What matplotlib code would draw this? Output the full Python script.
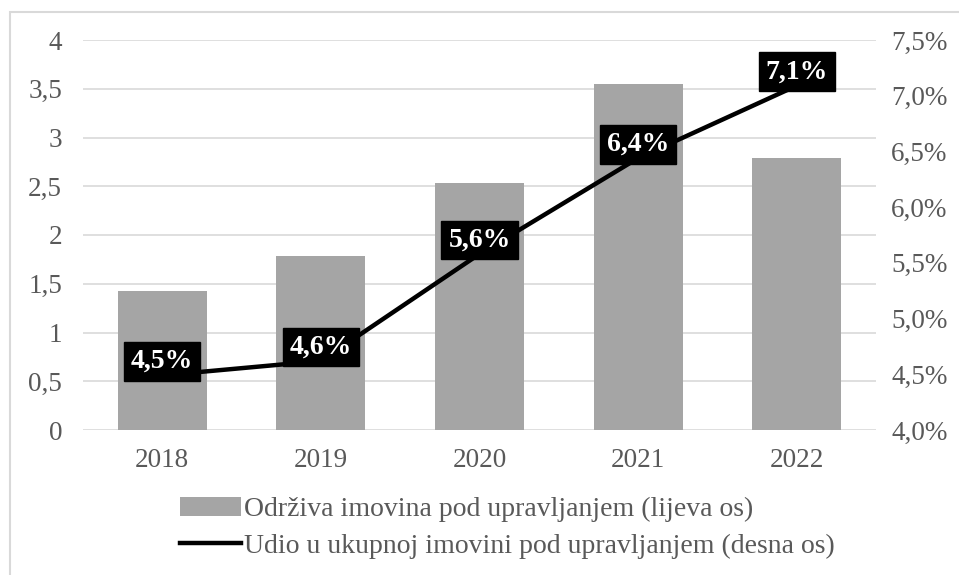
import matplotlib.pyplot as plt
from matplotlib.patches import Rectangle

### Data ###
years = ["2018", "2019", "2020", "2021", "2022"]
# sustainable assets under management (left axis)
assets = [1.43, 1.78, 2.53, 3.55, 2.79]
# share in total assets under management, % (right axis)
share = [4.49, 4.62, 5.58, 6.44, 7.09]

left_ticks = [0, 0.5, 1, 1.5, 2, 2.5, 3, 3.5, 4]
right_ticks = [4.0, 4.5, 5.0, 5.5, 6.0, 6.5, 7.0, 7.5]

bar_label = "Održiva imovina pod upravljanjem (lijeva os)"
line_label = "Udio u ukupnoj imovini pod upravljanjem (desna os)"

### Style ###
plt.rcParams['font.family'] = ['Liberation Serif', 'DejaVu Serif']
font_size = 19.5
text_color = "#595959"
grid_color = "#D9D9D9"
bar_color = "#A5A5A5"


def comma(v, fmt):
    return format(v, fmt).replace('.', ',')


fig = plt.figure(figsize=(9.59, 5.75), dpi=100)
ax = fig.add_axes([83 / 959, 1 - 430 / 575, (876 - 83) / 959, (430 - 40) / 575])
ax2 = ax.twinx()

x = list(range(len(years)))
bars = ax.bar(x, assets, width=0.56, color=bar_color, label=bar_label, zorder=2)
line, = ax2.plot(x, share, color="black", lw=3.2, label=line_label, zorder=3)

# data labels on the line
for xi, v in zip(x, share):
    ax2.annotate(comma(v, ".1f") + "%", (xi, v), xytext=(0, 10), textcoords="offset points",
                 ha="center", va="center", color="white", fontweight="bold", fontsize=20,
                 bbox=dict(boxstyle="square,pad=0.25", fc="black", ec="black"), zorder=4)

ax.set_xlim(-0.5, len(years) - 0.5)
ax.set_ylim(0, 4)
ax2.set_ylim(4.0, 7.5)

ax.set_xticks(x)
ax.set_xticklabels(years)
ax.set_yticks(left_ticks)
ax.set_yticklabels([comma(t, "g") for t in left_ticks])
ax2.set_yticks(right_ticks)
ax2.set_yticklabels([comma(t, ".1f") + "%" for t in right_ticks])

ax.grid(axis="y", color=grid_color, lw=1.2, zorder=0)
ax.set_axisbelow(True)
for a in (ax, ax2):
    for s in a.spines.values():
        s.set_visible(False)
ax.tick_params(axis="y", length=0, pad=15, labelsize=font_size, labelcolor=text_color)
ax.tick_params(axis="x", length=0, pad=13, labelsize=font_size, labelcolor=text_color)
ax2.tick_params(axis="y", length=0, pad=11, labelsize=font_size, labelcolor=text_color)

# chart frame (only top and left visible in the crop)
fig.patches.append(Rectangle((10 / 959, -0.1), 1.0, 1 - 12 / 575 + 0.1, transform=fig.transFigure,
                             fill=False, ec=grid_color, lw=1.5))

fig.legend([bars, line], [bar_label, line_label], loc="center",
           bbox_to_anchor=(507 / 959, 1 - 528 / 575), frameon=False, fontsize=20,
           labelcolor=text_color, handlelength=2.2, handletextpad=0.1, labelspacing=0.4)

fig.savefig("out.png", dpi=100)
